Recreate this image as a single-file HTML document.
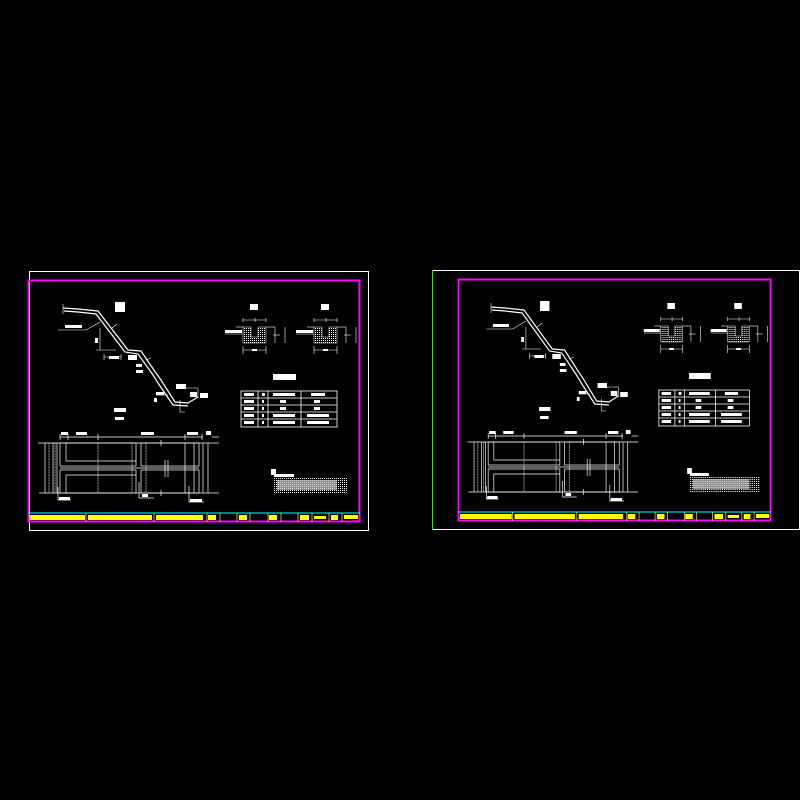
<!DOCTYPE html>
<html><head><meta charset="utf-8"><style>
html,body{margin:0;padding:0;background:#000;width:800px;height:800px;overflow:hidden}
svg{display:block}
</style></head><body>
<svg width="800" height="800" viewBox="0 0 800 800" xmlns="http://www.w3.org/2000/svg">
<defs>
<pattern id="dots" width="2" height="2" patternUnits="userSpaceOnUse">
  <rect width="2" height="2" fill="#000"/><rect width="1" height="1" fill="#fff"/>
</pattern>
<g id="sheet">
  <rect x="0.5" y="0.5" width="331" height="241" fill="none" stroke="#ff00ff" stroke-width="2"/>
  <line x1="0" y1="233" x2="332" y2="233" stroke="#00ffff" stroke-width="1"/>
  <g fill="#ffff00">
    <rect x="2" y="235" width="55" height="5"/>
    <rect x="60" y="235" width="64" height="5"/>
    <rect x="128" y="235" width="47" height="5"/>
    <rect x="180" y="235" width="8" height="5"/>
    <rect x="211" y="235" width="8" height="5"/>
    <rect x="241" y="235" width="8" height="5"/>
    <rect x="272" y="235" width="9" height="5"/>
    <rect x="286" y="236" width="12" height="3"/>
    <rect x="303" y="235" width="7" height="5"/>
    <rect x="316" y="235" width="14" height="4"/>
  </g>
  <g stroke="#ffff00" stroke-width="0.7">
    <line x1="58" y1="233" x2="58" y2="242"/><line x1="126" y1="233" x2="126" y2="242"/>
    <line x1="179" y1="233" x2="179" y2="242"/><line x1="192" y1="233" x2="192" y2="242"/>
    <line x1="209" y1="233" x2="209" y2="242"/><line x1="222" y1="233" x2="222" y2="242"/>
    <line x1="240" y1="233" x2="240" y2="242"/><line x1="253" y1="233" x2="253" y2="242"/>
    <line x1="270" y1="233" x2="270" y2="242"/><line x1="284" y1="233" x2="284" y2="242"/>
    <line x1="301" y1="233" x2="301" y2="242"/><line x1="314" y1="233" x2="314" y2="242"/>
  </g>
  <!-- slope profile (double line) -->
  <g stroke="#fff" fill="none" stroke-width="1.2">
    <polyline points="35,28 50,29 70,31 100,70 113,71 128,93 133,100 147,122 160,123 170,117"/>
    <polyline points="36,31 50,32 68,34 97,72 110,74 125,95 130,103 145,125 160,126"/>
  </g>
  <g stroke="#fff" fill="none" stroke-width="0.6">
    <line x1="35" y1="24" x2="35" y2="34"/>
    <polyline points="30,50 58,50 72,42"/>
    <line x1="72" y1="48" x2="72" y2="70"/>
    <line x1="68" y1="70" x2="88" y2="70"/>
    <line x1="76" y1="77" x2="93" y2="77"/>
    <line x1="76" y1="74" x2="76" y2="80"/><line x1="93" y1="74" x2="93" y2="80"/>
    <line x1="84" y1="48" x2="89" y2="44"/>
    <line x1="118" y1="80" x2="123" y2="78"/>
    <line x1="128" y1="115" x2="140" y2="115"/>
    <polyline points="152,120 152,132 157,132"/>
    <polyline points="158,108 170,108 170,118"/>
  </g>
  <g fill="#fff">
    <rect x="87" y="22" width="10" height="10"/>
    <rect x="37" y="45" width="17" height="3"/>
    <rect x="67" y="58" width="3" height="5"/>
    <rect x="81" y="76" width="10" height="3"/>
    <rect x="100" y="75" width="9" height="5"/>
    <rect x="108" y="84" width="6" height="3"/><rect x="108" y="90" width="7" height="3"/>
    <rect x="148" y="104" width="10" height="5"/>
    <rect x="162" y="112" width="7" height="5"/>
    <rect x="172" y="113" width="8" height="5"/>
    <rect x="128" y="112" width="8" height="3"/>
    <rect x="126" y="118" width="3" height="4"/>
    <rect x="86" y="128" width="12" height="4"/>
    <rect x="87" y="137" width="9" height="3"/>
  </g>
  <!-- cross sections -->
  <g id="xs">
    <rect x="222" y="24" width="8" height="6" fill="#fff"/>
    <g stroke="#fff" fill="none" stroke-width="0.6">
      <line x1="215" y1="40" x2="238" y2="40"/>
      <line x1="215" y1="38" x2="215" y2="42"/><line x1="238" y1="38" x2="238" y2="42"/>
      <line x1="227" y1="38" x2="227" y2="42"/>
      <line x1="197" y1="54" x2="215" y2="54"/>
      <line x1="208" y1="47" x2="215" y2="47"/>
      <line x1="238" y1="47" x2="247" y2="47"/>
      <line x1="215" y1="70" x2="238" y2="70"/>
      <line x1="215" y1="66" x2="215" y2="74"/><line x1="238" y1="66" x2="238" y2="74"/>
      <line x1="247" y1="47" x2="247" y2="63"/><line x1="257" y1="47" x2="257" y2="63"/>
      <line x1="245" y1="55" x2="252" y2="55"/>
    </g>
    <path d="M215,47 H223 V57 H230 V47 H238 V63 H215 Z" fill="url(#dots)" stroke="#fff" stroke-width="0.5"/>
    <rect x="197" y="50" width="17" height="3" fill="#fff"/>
    <rect x="224" y="69" width="5" height="2" fill="#fff"/>
  </g>
  <use href="#xs" x="71"/>
  <!-- table -->
  <rect x="245" y="94" width="23" height="6" fill="#fff"/>
  <g stroke="#fff" fill="none" stroke-width="0.8">
    <rect x="213" y="111" width="96" height="36"/>
    <line x1="213" y1="118" x2="309" y2="118"/><line x1="213" y1="125" x2="309" y2="125"/>
    <line x1="213" y1="132" x2="309" y2="132"/><line x1="213" y1="139" x2="309" y2="139"/>
    <line x1="230" y1="111" x2="230" y2="147"/><line x1="240" y1="111" x2="240" y2="147"/>
    <line x1="273" y1="111" x2="273" y2="147"/>
  </g>
  <g fill="#fff">
    <rect x="216" y="113" width="10" height="3"/><rect x="216" y="120" width="10" height="3"/>
    <rect x="216" y="127" width="10" height="3"/><rect x="216" y="134" width="10" height="3"/><rect x="216" y="141" width="10" height="3"/>
    <rect x="234" y="113" width="3" height="3"/><rect x="234" y="120" width="2" height="3"/><rect x="234" y="127" width="2" height="3"/><rect x="234" y="134" width="2" height="3"/><rect x="234" y="141" width="2" height="3"/>
    <rect x="245" y="113" width="22" height="3"/><rect x="252" y="120" width="6" height="3"/>
    <rect x="252" y="127" width="6" height="3"/><rect x="245" y="134" width="22" height="3"/><rect x="245" y="141" width="22" height="3"/>
    <rect x="283" y="113" width="14" height="3"/><rect x="286" y="120" width="6" height="3"/>
    <rect x="286" y="127" width="6" height="3"/><rect x="279" y="134" width="22" height="3"/><rect x="279" y="141" width="22" height="3"/>
  </g>
  <!-- plan -->
  <g stroke="#fff" fill="none" stroke-width="0.7">
    <line x1="32" y1="157" x2="175" y2="157"/>
    <line x1="32" y1="154" x2="32" y2="160"/><line x1="40" y1="154" x2="40" y2="160"/>
    <line x1="70" y1="154" x2="70" y2="160"/><line x1="157" y1="154" x2="157" y2="160"/>
    <line x1="174" y1="154" x2="174" y2="160"/><line x1="184" y1="157" x2="191" y2="157"/>
    <line x1="10" y1="163" x2="191" y2="163"/>
    <line x1="11" y1="213" x2="191" y2="213"/>
    <line x1="17" y1="163" x2="17" y2="213"/>
    <line x1="21" y1="163" x2="21" y2="213" stroke-dasharray="1,0.6"/>
    <line x1="25" y1="163" x2="25" y2="213"/><line x1="27" y1="163" x2="27" y2="213" stroke-dasharray="1,0.6"/>
    <line x1="29" y1="163" x2="29" y2="213"/>
    <rect x="32" y="163" width="76" height="23"/>
    <polyline points="38,163 38,181 108,181"/>
    <rect x="32" y="190" width="76" height="23"/>
    <polyline points="38,213 38,195 108,195"/>
    <line x1="70" y1="163" x2="70" y2="213" stroke-dasharray="1,0.6"/>
    <line x1="104" y1="163" x2="104" y2="213" stroke-dasharray="1,0.6"/>
    <rect x="113" y="163" width="58" height="23"/>
    <rect x="113" y="190" width="58" height="23"/>
    <line x1="118" y1="163" x2="118" y2="213" stroke-dasharray="1,0.6"/>
    <line x1="157" y1="163" x2="157" y2="213"/>
    <line x1="166" y1="163" x2="166" y2="213"/>
    <line x1="175" y1="163" x2="175" y2="213"/><line x1="180" y1="163" x2="180" y2="213"/>
    <line x1="133" y1="160" x2="133" y2="166"/><line x1="133" y1="210" x2="133" y2="216"/>
    <line x1="32" y1="188" x2="171" y2="188"/>
    <line x1="137" y1="180" x2="137" y2="197"/><line x1="140" y1="180" x2="140" y2="197"/>
    <polyline points="30,207 30,220 43,220"/>
    <polyline points="111,202 111,218 126,218"/>
    <polyline points="161,206 161,222 176,222"/>
  </g>
  <g fill="#fff">
    <rect x="33" y="152" width="7" height="3"/><rect x="48" y="152" width="11" height="3"/>
    <rect x="113" y="152" width="13" height="3"/><rect x="159" y="152" width="11" height="3"/>
    <rect x="178" y="151" width="5" height="4"/>
    <rect x="31" y="217" width="11" height="3"/><rect x="114" y="214" width="6" height="3"/><rect x="162" y="219" width="12" height="3"/>
    <rect x="243" y="189" width="5" height="6"/>
    <rect x="246" y="194" width="20" height="3"/>
  </g>
  <rect x="246" y="198" width="74" height="15" fill="url(#dots)"/>
  <rect x="249" y="200" width="60" height="10" fill="#ccc" opacity="0.7"/>
</g>
</defs>

<rect x="29.5" y="271.5" width="339" height="259" fill="none" stroke="#fff" stroke-width="1"/>
<use href="#sheet" transform="translate(28,280)"/>

<rect x="432.5" y="270.5" width="367" height="259" fill="none" stroke="#fff" stroke-width="1"/>
<line x1="432.5" y1="270" x2="432.5" y2="530" stroke="#00ff00" stroke-width="1"/>
<use href="#sheet" transform="translate(458,279) scale(0.943,1)"/>
</svg>
</body></html>
